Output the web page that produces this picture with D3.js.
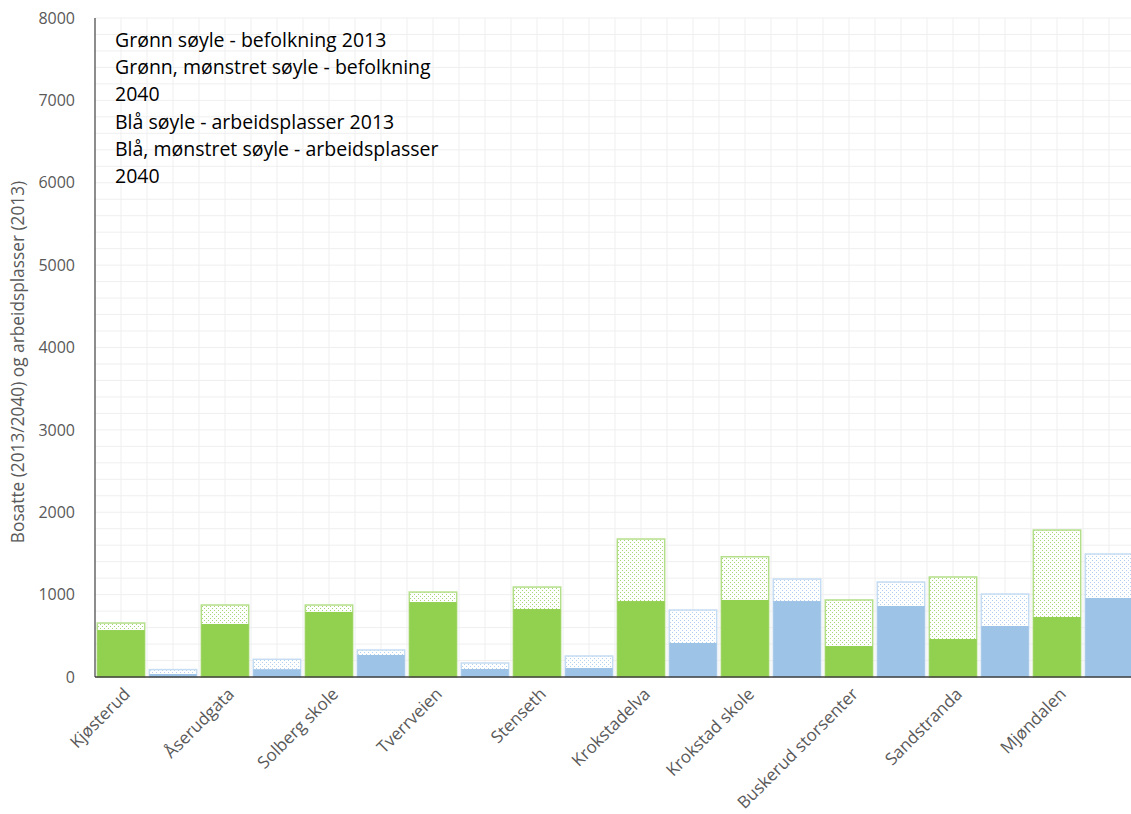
<!DOCTYPE html>
<html>
<head>
<meta charset="utf-8">
<script src="https://cdn.jsdelivr.net/npm/d3@7/dist/d3.min.js"></script>
<style>
  html, body { margin: 0; padding: 0; background: #fff; }
  svg { display: block; }
</style>
</head>
<body>
<script>
// Stasjonsområder langs linja
const categories = ["Kjøsterud", "Åserudgata", "Solberg skole", "Tverrveien", "Stenseth",
  "Krokstadelva", "Krokstad skole", "Buskerud storsenter", "Sandstranda", "Mjøndalen"];

// Bosatte og arbeidsplasser per område
const bosatte2013 = [570, 643, 790, 910, 825, 922, 935, 376, 461, 728];
const bosatte2040 = [655, 874, 874, 1031, 1092, 1675, 1460, 935, 1214, 1784];
const arbeid2013 = [36, 95, 267, 97, 109, 413, 922, 862, 619, 959];
const arbeid2040 = [90, 215, 328, 170, 255, 813, 1189, 1153, 1007, 1493];

const yTicks = [0, 1000, 2000, 3000, 4000, 5000, 6000, 7000, 8000];

const legendLines = [
  "Grønn søyle - befolkning 2013",
  "Grønn, mønstret søyle - befolkning",
  "2040",
  "Blå søyle - arbeidsplasser 2013",
  "Blå, mønstret søyle - arbeidsplasser",
  "2040"
];

const yTitle = "Bosatte (2013/2040) og arbeidsplasser (2013)";

const W = 1131, H = 814;
const plotL = 95, plotR = 1135, plotT = 18, plotB = 677;

const svg = d3.select("body").append("svg").attr("width", W).attr("height", H);

const x = d3.scaleBand().domain(categories).range([plotL, plotR]).padding(0);
const sub = d3.scaleBand().domain(["bosatte", "arbeid"]).range([0, x.bandwidth()])
  .paddingInner(0.06).paddingOuter(0.03);
const y = d3.scaleLinear().domain([0, 8000]).range([plotB, plotT]);

// dotted fills for the 2040 bars
const defs = svg.append("defs");
function dots(id, color) {
  const p = defs.append("pattern").attr("id", id).attr("patternUnits", "userSpaceOnUse")
    .attr("width", 4).attr("height", 4);
  p.append("rect").attr("width", 4).attr("height", 4).attr("fill", "#fff");
  p.append("rect").attr("x", 0).attr("y", 0).attr("width", 1).attr("height", 1).attr("fill", color);
  p.append("rect").attr("x", 2).attr("y", 2).attr("width", 1).attr("height", 1).attr("fill", color);
}
dots("dotGreen", "#a6d775");
dots("dotBlue", "#b3d1ee");

// grid
const grid = svg.append("g");
grid.selectAll("line.h").data(d3.range(0, 8001, 200)).join("line")
  .attr("x1", plotL).attr("x2", W).attr("y1", d => y(d)).attr("y2", d => y(d))
  .attr("stroke", "#efefef").attr("stroke-width", 1);
const vStep = x.bandwidth() / 4;
grid.selectAll("line.v").data(d3.range(1, 41)).join("line")
  .attr("x1", d => plotL + d * vStep).attr("x2", d => plotL + d * vStep)
  .attr("y1", plotT).attr("y2", plotB)
  .attr("stroke", "#efefef").attr("stroke-width", 1);

// bars
const series = [
  { key: "bosatte", v13: bosatte2013, v40: bosatte2040, fill: "#92d050", edge: "#b4df8a", pat: "url(#dotGreen)" },
  { key: "arbeid", v13: arbeid2013, v40: arbeid2040, fill: "#9dc3e6", edge: "#c5dcf2", pat: "url(#dotBlue)" }
];

series.forEach(s => {
  const g = svg.append("g");
  g.selectAll("rect.f").data(categories).join("rect")
    .attr("x", (c) => x(c) + sub(s.key) + 0.75)
    .attr("y", (c, i) => y(s.v40[i]))
    .attr("width", sub.bandwidth() - 1.5)
    .attr("height", (c, i) => y(0) - y(s.v40[i]))
    .attr("fill", s.pat).attr("stroke", s.edge).attr("stroke-width", 1.5);
  g.selectAll("rect.n").data(categories).join("rect")
    .attr("x", (c) => x(c) + sub(s.key) + 0.75)
    .attr("y", (c, i) => y(s.v13[i]))
    .attr("width", sub.bandwidth() - 1.5)
    .attr("height", (c, i) => y(0) - y(s.v13[i]))
    .attr("fill", s.fill);
});

// axes
svg.append("line").attr("x1", plotL).attr("x2", W).attr("y1", plotB).attr("y2", plotB)
  .attr("stroke", "#404040").attr("stroke-width", 1.5);
svg.append("line").attr("x1", plotL).attr("x2", plotL).attr("y1", plotT).attr("y2", plotB)
  .attr("stroke", "#404040").attr("stroke-width", 1.2);

const yAxis = d3.axisLeft(y).tickValues(yTicks).tickSize(0).tickPadding(20).tickFormat(d3.format("d"));
const ya = svg.append("g").attr("transform", `translate(${plotL},0)`).call(yAxis);
ya.select(".domain").remove();
ya.selectAll("text").attr("font-family", "'Open Sans', sans-serif").attr("font-size", 16)
  .attr("fill", "#595959");

svg.append("text")
  .attr("transform", `translate(24,362) rotate(-90)`)
  .attr("text-anchor", "middle")
  .attr("font-family", "'Open Sans', sans-serif").attr("font-size", 17.3).attr("fill", "#595959")
  .text(yTitle);

// category labels
svg.append("g").selectAll("text").data(categories).join("text")
  .attr("transform", c => `translate(${x(c) + x.bandwidth() / 2 - 20},${plotB + 14}) rotate(-45)`)
  .attr("text-anchor", "end")
  .attr("dy", "0.35em")
  .attr("font-family", "'Open Sans', sans-serif").attr("font-size", 17).attr("fill", "#595959")
  .text(c => c);

// explanatory text
svg.append("g").selectAll("text").data(legendLines).join("text")
  .attr("x", 115).attr("y", (d, i) => 47 + i * 27.2)
  .attr("font-family", "'Open Sans', sans-serif").attr("font-size", 19.5).attr("fill", "#000")
  .text(d => d);
</script>
</body>
</html>
